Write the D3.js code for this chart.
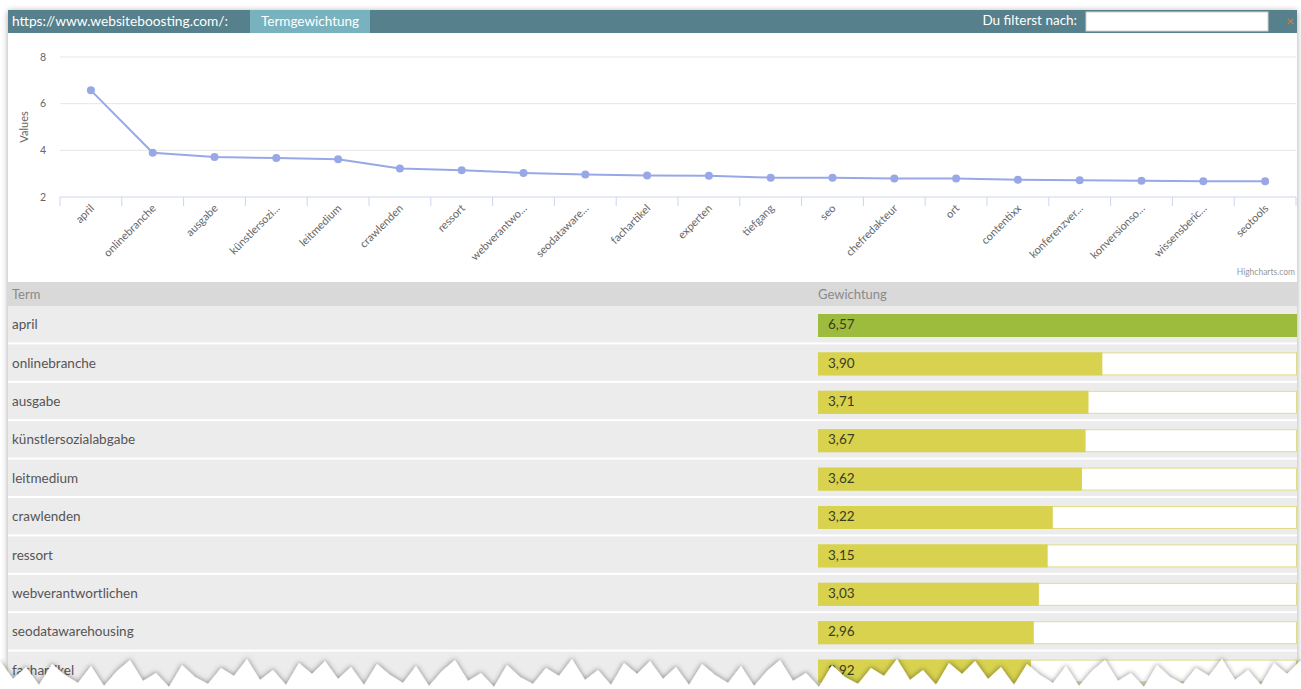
<!DOCTYPE html>
<html>
<head>
<meta charset="utf-8">
<script src="https://cdn.jsdelivr.net/npm/d3@7"></script>
<style>
  html, body { margin: 0; padding: 0; background: #fff; }
  svg { display: block; font-family: Lato, "Open Sans", sans-serif; }
</style>
</head>
<body>
<svg id="chart" width="1301" height="689"></svg>
<script>
// terms as shown in the table, the axis shows them shortened
const terms = ['april', 'onlinebranche', 'ausgabe', 'künstlersozialabgabe', 'leitmedium', 'crawlenden',
  'ressort', 'webverantwortlichen', 'seodatawarehousing', 'fachartikel', 'experten', 'tiefgang', 'seo',
  'chefredakteur', 'ort', 'contentixx', 'konferenzverwaltung', 'konversionsoptimierung',
  'wissensbericht', 'seotools']
const axisLabels = ['april', 'onlinebranche', 'ausgabe', 'künstlersozi...', 'leitmedium', 'crawlenden',
  'ressort', 'webverantwo...', 'seodataware...', 'fachartikel', 'experten', 'tiefgang', 'seo',
  'chefredakteur', 'ort', 'contentixx', 'konferenzver...', 'konversionso...', 'wissensberic...', 'seotools']
const weights = [6.57, 3.90, 3.71, 3.67, 3.62, 3.22, 3.15, 3.03, 2.96, 2.92,
  2.91, 2.83, 2.82, 2.79, 2.79, 2.74, 2.72, 2.70, 2.68, 2.67]
const yTicks = [2, 4, 6, 8]
const tableRows = 10

const svg = d3.select('#chart')
const W = 1301
const panelL = 8, panelR = 1297

// shadow
const defs = svg.append('defs')
const sh = defs.append('filter').attr('id', 'shadow').attr('x', '-5%').attr('y', '-5%').attr('width', '110%').attr('height', '110%')
sh.append('feDropShadow').attr('dx', 0).attr('dy', 1).attr('stdDeviation', 3).attr('flood-color', '#000').attr('flood-opacity', 0.35)
const sh2 = defs.append('filter').attr('id', 'tearShadow').attr('x', '-5%').attr('y', '-50%').attr('width', '110%').attr('height', '200%')
sh2.append('feDropShadow').attr('dx', 0).attr('dy', -1).attr('stdDeviation', 2.5).attr('flood-color', '#000').attr('flood-opacity', 0.4)

svg.append('rect')
  .attr('x', panelL).attr('y', 10).attr('width', panelR - panelL).attr('height', 680)
  .attr('fill', '#fff').attr('filter', 'url(#shadow)')

// header bar
svg.append('rect').attr('x', panelL).attr('y', 10).attr('width', panelR - panelL).attr('height', 23).attr('fill', '#56808c')
svg.append('rect').attr('x', 250).attr('y', 10).attr('width', 120).attr('height', 23).attr('fill', '#78b2bf')
svg.append('text').attr('x', 12).attr('y', 26).attr('fill', '#fff').attr('font-size', 13.5)
  .attr('textLength', 216).attr('lengthAdjust', 'spacingAndGlyphs')
  .text('https://www.websiteboosting.com/:')
svg.append('text').attr('x', 310).attr('y', 26).attr('fill', '#fff').attr('font-size', 13.5)
  .attr('text-anchor', 'middle').text('Termgewichtung')
svg.append('text').attr('x', 1077).attr('y', 25).attr('fill', '#fff').attr('font-size', 13.5)
  .attr('text-anchor', 'end').text('Du filterst nach:')
svg.append('rect').attr('x', 1086).attr('y', 12).attr('width', 182).attr('height', 19)
  .attr('fill', '#fff').attr('stroke', '#d0d0d0')
svg.append('text').attr('x', 1286).attr('y', 26).attr('fill', '#e07a3a').attr('font-size', 14).text('×')

// line chart
const x = d3.scaleBand().domain(terms).range([60, 1296])
const y = d3.scaleLinear().domain([2, 8]).range([197, 57])
const g = svg.append('g')

g.selectAll('.grid').data(yTicks).join('line')
  .attr('x1', 60).attr('x2', 1296)
  .attr('y1', d => y(d)).attr('y2', d => y(d))
  .attr('stroke', d => d === 2 ? '#ccd6eb' : '#e6e6e6').attr('stroke-width', 1)

g.selectAll('.ytick').data(yTicks).join('text')
  .attr('x', 46).attr('y', d => y(d) + 3.5)
  .attr('text-anchor', 'end').attr('font-size', 10.5).attr('fill', '#666')
  .text(d => d)

g.append('text')
  .attr('transform', 'translate(28,' + y(5) + ') rotate(-90)')
  .attr('text-anchor', 'middle').attr('font-size', 11).attr('fill', '#666')
  .text('Values')

const tickPos = terms.map(t => x(t)).concat([x.range()[1]])
g.selectAll('.xtick').data(tickPos).join('line')
  .attr('x1', d => d).attr('x2', d => d).attr('y1', 197).attr('y2', 206)
  .attr('stroke', '#ccd6eb')

g.selectAll('.xlabel').data(terms).join('text')
  .attr('transform', (d, i) => 'translate(' + (x(d) + x.bandwidth() / 2 + 4) + ',209) rotate(-45)')
  .attr('text-anchor', 'end').attr('font-size', 11).attr('fill', '#666')
  .text((d, i) => axisLabels[i])

const line = d3.line().x((d, i) => x(terms[i]) + x.bandwidth() / 2).y(d => y(d))
g.append('path').datum(weights).attr('d', line)
  .attr('fill', 'none').attr('stroke', '#98a8e6').attr('stroke-width', 2)
g.selectAll('.pt').data(weights).join('circle')
  .attr('cx', (d, i) => x(terms[i]) + x.bandwidth() / 2).attr('cy', d => y(d))
  .attr('r', 4).attr('fill', '#98a8e6')

svg.append('text').attr('x', 1295).attr('y', 275).attr('text-anchor', 'end')
  .attr('font-size', 8.5).attr('fill', '#999').text('Highcharts.com')

// table
const tTop = 282, headH = 24, rowH = 38.4
const barX = 818, barW = panelR - barX
const bx = d3.scaleLinear().domain([0, d3.max(weights)]).range([0, barW])

svg.append('rect').attr('x', panelL).attr('y', tTop).attr('width', panelR - panelL).attr('height', headH).attr('fill', '#d9d9d9')
svg.append('text').attr('x', 12).attr('y', tTop + 17).attr('font-size', 13).attr('fill', '#8a8a8a').text('Term')
svg.append('text').attr('x', barX).attr('y', tTop + 17).attr('font-size', 13).attr('fill', '#8a8a8a').text('Gewichtung')

const rows = svg.append('g').selectAll('g').data(terms.slice(0, tableRows)).join('g')
  .attr('transform', (d, i) => 'translate(0,' + (tTop + headH + i * rowH) + ')')

rows.append('rect').attr('x', panelL).attr('y', 0).attr('width', panelR - panelL).attr('height', rowH - 2).attr('fill', '#ececec')
rows.append('text').attr('x', 12).attr('y', rowH / 2 + 4).attr('font-size', 13.5).attr('fill', '#555').text(d => d)
rows.append('rect')
  .attr('x', barX + 0.5).attr('y', 8.5).attr('width', barW - 1).attr('height', 22)
  .attr('fill', '#fff').attr('stroke', '#e0dc8a')
rows.append('rect')
  .attr('x', barX).attr('y', 8).attr('width', (d, i) => bx(weights[i])).attr('height', 23)
  .attr('fill', (d, i) => i === 0 ? '#9dbb3d' : '#d8d24f')
rows.append('text').attr('x', barX + 10).attr('y', rowH / 2 + 4).attr('font-size', 13.5).attr('fill', '#3c3c20')
  .text((d, i) => weights[i].toFixed(2).replace('.', ','))

// torn paper edge at the bottom
const tear = [6, 24, 12, 30, 9, 20, 28, 11, 31, 16, 5, 26, 18, 32, 10, 22, 29, 13, 21, 4, 25, 15, 30, 8, 19]
const step = 13
const pts = []
for (let i = 0, px = 0; px <= W + step; i++, px += step) {
  pts.push([px, 655 + tear[i % tear.length]])
}
const tornPath = 'M' + pts.map(p => p.join(',')).join('L') + 'L' + (W + step) + ',700L0,700Z'
svg.append('path').attr('d', tornPath).attr('fill', '#fff').attr('filter', 'url(#tearShadow)')
</script>
</body>
</html>
